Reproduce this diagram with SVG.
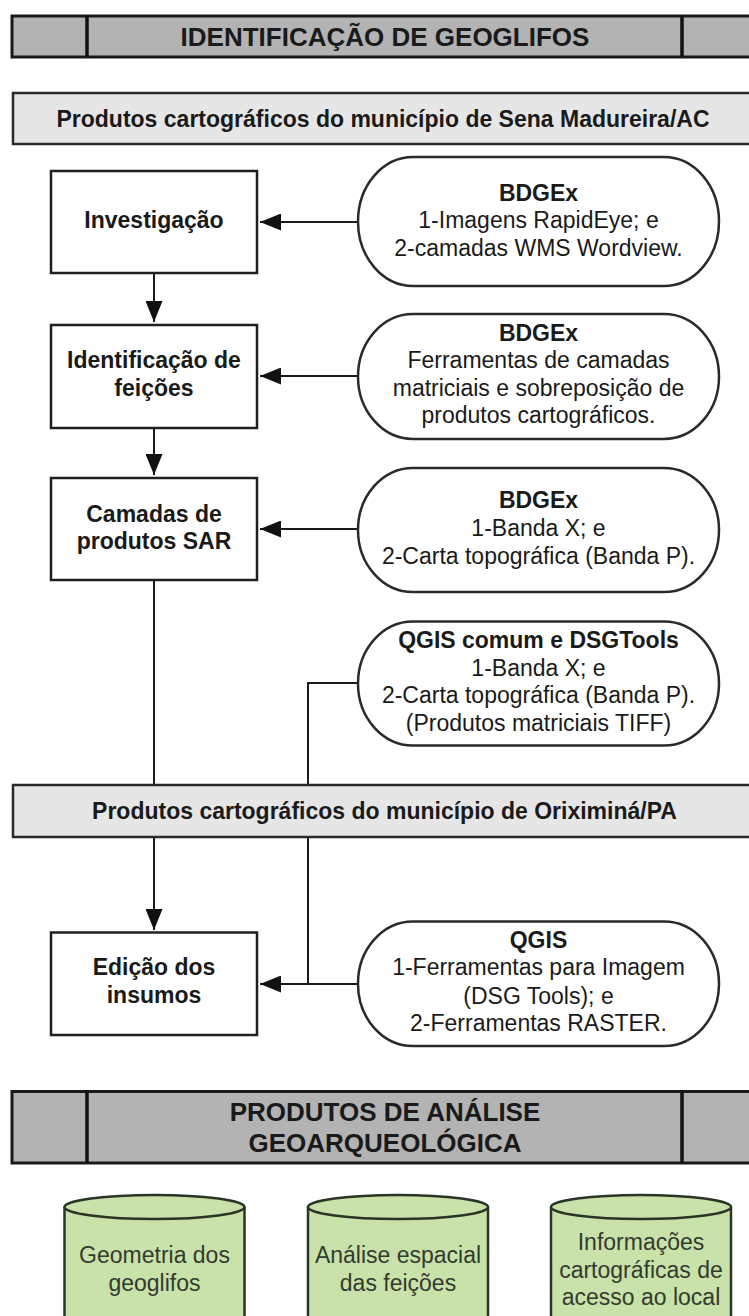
<svg xmlns="http://www.w3.org/2000/svg" width="749" height="1316" viewBox="0 0 749 1316">
<style>
.t{font-family:"Liberation Sans",Arial,sans-serif;font-size:23px;fill:#1a1a1a;text-anchor:middle}
.b{font-weight:bold}
.ttl{font-family:"Liberation Sans",Arial,sans-serif;font-size:26px;font-weight:bold;fill:#1a1a1a;text-anchor:middle}
.dark{fill:#b3b3b3;stroke:#1a1a1a;stroke-width:3}
.light{fill:#e6e6e6;stroke:#2a2a2a;stroke-width:2.5}
.div{stroke:#111;stroke-width:3.5}
.box{fill:#fff;stroke:#1f1f1f;stroke-width:2.5}
.st{fill:#fff;stroke:#2a2a2a;stroke-width:2.5}
.ln{fill:none;stroke:#1a1a1a;stroke-width:2}
.cyl{fill:#c9e2a9;stroke:#2b3527;stroke-width:2.5}
.ct{font-family:"Liberation Sans",Arial,sans-serif;font-size:23px;fill:#333a30;text-anchor:middle}
</style>
<defs>
<marker id="ah" markerUnits="userSpaceOnUse" markerWidth="21" markerHeight="17" viewBox="0 0 21 17" refX="21" refY="8.5" orient="auto">
<path d="M0,0 L21,8.5 L0,17 z" fill="#111"/>
</marker>
</defs>

<g id="bar-top">
<rect class="dark" x="12" y="16" width="760" height="41"/>
<line class="div" x1="87" y1="16" x2="87" y2="57"/>
<line class="div" x1="682" y1="16" x2="682" y2="57"/>
<text class="ttl" x="385" y="46">IDENTIFICAÇÃO DE GEOGLIFOS</text>
</g>

<g id="bar-sena">
<rect class="light" x="13" y="93" width="760" height="51"/>
<text class="t b" x="383" y="126.5">Produtos cartográficos do município de Sena Madureira/AC</text>
</g>

<g id="connectors">
<line class="ln" x1="358" y1="222" x2="260" y2="222" marker-end="url(#ah)"/>
<line class="ln" x1="154" y1="273" x2="154" y2="322" marker-end="url(#ah)"/>
<line class="ln" x1="358" y1="376" x2="260" y2="376" marker-end="url(#ah)"/>
<line class="ln" x1="154" y1="428" x2="154" y2="475" marker-end="url(#ah)"/>
<line class="ln" x1="358" y1="529" x2="260" y2="529" marker-end="url(#ah)"/>
<line class="ln" x1="154" y1="580" x2="154" y2="785"/>
<polyline class="ln" points="358,683 308,683 308,785"/>
<line class="ln" x1="154" y1="837" x2="154" y2="930" marker-end="url(#ah)"/>
<line class="ln" x1="308" y1="837" x2="308" y2="984"/>
<line class="ln" x1="358" y1="984" x2="260" y2="984" marker-end="url(#ah)"/>
</g>

<g id="n-investigacao">
<rect class="box" x="51" y="171" width="206" height="102"/>
<text class="t b" x="154" y="228">Investigação</text>
</g>
<g id="s-bdgex1">
<rect class="st" x="358" y="157" width="361" height="129" rx="55" ry="64.5"/>
<text class="t b" x="538.5" y="200.5">BDGEx</text>
<text class="t" x="538.5" y="228">1-Imagens RapidEye; e</text>
<text class="t" x="538.5" y="255.5">2-camadas WMS Wordview.</text>
</g>

<g id="n-identificacao">
<rect class="box" x="51" y="325" width="206" height="103"/>
<text class="t b" x="154" y="368">Identificação de</text>
<text class="t b" x="154" y="395.5">feições</text>
</g>
<g id="s-bdgex2">
<rect class="st" x="358" y="314" width="361" height="125" rx="55" ry="62.5"/>
<text class="t b" x="538.5" y="340.5">BDGEx</text>
<text class="t" x="538.5" y="368">Ferramentas de camadas</text>
<text class="t" x="538.5" y="395.5">matriciais e sobreposição de</text>
<text class="t" x="538.5" y="423">produtos cartográficos.</text>
</g>

<g id="n-camadas">
<rect class="box" x="51" y="478" width="206" height="102"/>
<text class="t b" x="154" y="521.5">Camadas de</text>
<text class="t b" x="154" y="549">produtos SAR</text>
</g>
<g id="s-bdgex3">
<rect class="st" x="358" y="468" width="361" height="124" rx="55" ry="62"/>
<text class="t b" x="538.5" y="508">BDGEx</text>
<text class="t" x="538.5" y="536">1-Banda X; e</text>
<text class="t" x="538.5" y="564">2-Carta topográfica (Banda P).</text>
</g>

<g id="s-qgis-dsg">
<rect class="st" x="358" y="621.5" width="361" height="124" rx="55" ry="62"/>
<text class="t b" x="538.5" y="648">QGIS comum e DSGTools</text>
<text class="t" x="538.5" y="675.5">1-Banda X; e</text>
<text class="t" x="538.5" y="703">2-Carta topográfica (Banda P).</text>
<text class="t" x="538.5" y="731">(Produtos matriciais TIFF)</text>
</g>

<g id="bar-oriximina">
<rect class="light" x="13" y="785" width="760" height="52"/>
<text class="t b" x="384.5" y="818.5">Produtos cartográficos do município de Oriximiná/PA</text>
</g>

<g id="n-edicao">
<rect class="box" x="51" y="932.5" width="206" height="102.5"/>
<text class="t b" x="154" y="975">Edição dos</text>
<text class="t b" x="154" y="1002.5">insumos</text>
</g>
<g id="s-qgis">
<rect class="st" x="358" y="921.5" width="361" height="124.5" rx="55" ry="62"/>
<text class="t b" x="538.5" y="947.7">QGIS</text>
<text class="t" x="538.5" y="975">1-Ferramentas para Imagem</text>
<text class="t" x="538.5" y="1003.5">(DSG Tools); e</text>
<text class="t" x="538.5" y="1031">2-Ferramentas RASTER.</text>
</g>

<g id="bar-bottom">
<rect class="dark" x="12" y="1091.5" width="760" height="71.5"/>
<line class="div" x1="87" y1="1091.5" x2="87" y2="1163"/>
<line class="div" x1="682" y1="1091.5" x2="682" y2="1163"/>
<text class="ttl" x="385" y="1121">PRODUTOS DE ANÁLISE</text>
<text class="ttl" x="385" y="1152">GEOARQUEOLÓGICA</text>
</g>

<g id="c-geometria">
<path class="cyl" d="M64.5,1207 V1330 H244.5 V1207"/>
<ellipse class="cyl" cx="154.5" cy="1207" rx="90" ry="12"/>
<text class="ct" x="154.5" y="1263">Geometria dos</text>
<text class="ct" x="154.5" y="1291">geoglifos</text>
</g>
<g id="c-analise">
<path class="cyl" d="M308,1207 V1330 H488 V1207"/>
<ellipse class="cyl" cx="398" cy="1207" rx="90" ry="12"/>
<text class="ct" x="398" y="1263">Análise espacial</text>
<text class="ct" x="398" y="1291">das feições</text>
</g>
<g id="c-informacoes">
<path class="cyl" d="M551,1207 V1330 H731 V1207"/>
<ellipse class="cyl" cx="641" cy="1207" rx="90" ry="12"/>
<text class="ct" x="641" y="1250">Informações</text>
<text class="ct" x="641" y="1277.5">cartográficas de</text>
<text class="ct" x="641" y="1305">acesso ao local</text>
</g>
</svg>
